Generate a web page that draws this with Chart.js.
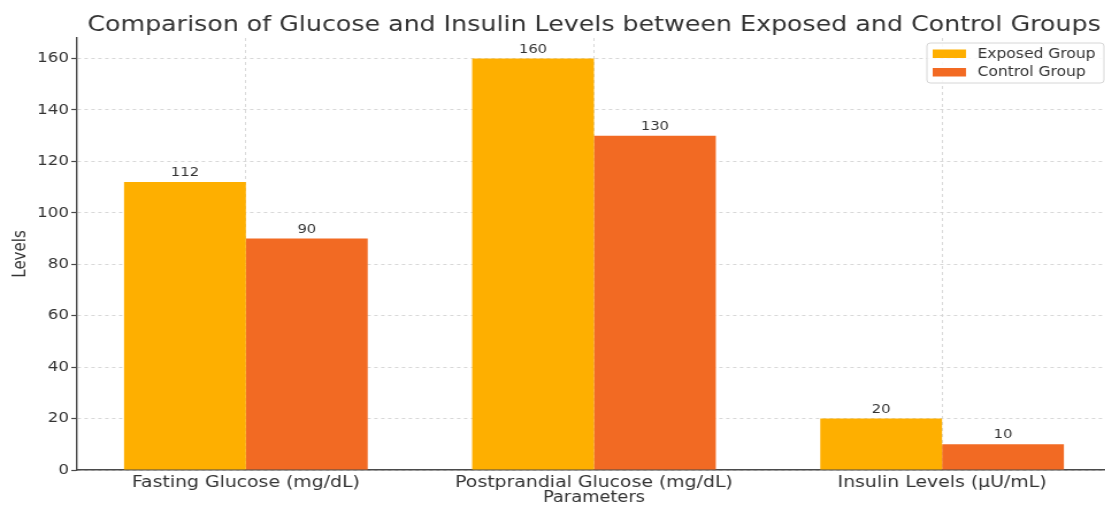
<!DOCTYPE html>
<html lang="en">
<head>
<meta charset="UTF-8">
<meta name="viewport" content="width=device-width, initial-scale=1.0">
<title>Glucose and Insulin Levels</title>
<style>
  html, body { margin: 0; padding: 0; overflow: hidden; background: #fff; }
  /* the reference picture is a little wider than tall, so the whole drawing is stretched sideways */
  #wrap { width: 975px; height: 505px; transform: scaleX(1.15); transform-origin: 0 0; }
  #chart { display: block; }
</style>
</head>
<body>
<div id="wrap"><canvas id="chart" width="975" height="505"></canvas></div>

<script src="https://cdn.jsdelivr.net/npm/chart.js"></script>
<script>
  const chartTitle = 'Comparison of Glucose and Insulin Levels between Exposed and Control Groups';
  const categories = ['Fasting Glucose (mg/dL)', 'Postprandial Glucose (mg/dL)', 'Insulin Levels (μU/mL)'];
  const seriesNames = ['Exposed Group', 'Control Group'];
  const exposedValues = [112, 160, 20];
  const controlValues = [90, 130, 10];
  const yTickValues = [0, 20, 40, 60, 80, 100, 120, 140, 160];
  const yMax = 168;

  const exposedColor = '#FEAF00';
  const controlColor = '#F26A23';
  const textColor = '#333';
  const font = 'DejaVu Sans';

  const toPoints = values => values.map((v, i) => ({ x: i, y: v }));

  // numbers written above every bar
  const valueLabels = {
    id: 'valueLabels',
    afterDatasetsDraw(chart) {
      const ctx = chart.ctx;
      ctx.save();
      ctx.font = '12.8px "' + font + '"';
      ctx.fillStyle = textColor;
      ctx.textAlign = 'center';
      ctx.textBaseline = 'alphabetic';
      chart.data.datasets.forEach((ds, i) => {
        chart.getDatasetMeta(i).data.forEach((bar, j) => {
          ctx.fillText(String(ds.data[j].y), bar.x, bar.y - 6);
        });
      });
      ctx.restore();
    }
  };

  // title centred over the plot, and a boxed legend in the upper right corner
  const titleAndLegend = {
    id: 'titleAndLegend',
    afterDraw(chart) {
      const { ctx, chartArea } = chart;
      ctx.save();
      ctx.font = '22px "' + font + '"';
      ctx.fillStyle = textColor;
      ctx.textAlign = 'center';
      ctx.textBaseline = 'alphabetic';
      ctx.fillText(chartTitle, (chartArea.left + chartArea.right) / 2, 31);

      const boxX = 806, boxY = 43, boxW = 154, boxH = 40;
      ctx.fillStyle = 'rgba(255,255,255,0.85)';
      ctx.strokeStyle = '#d6d6d6';
      ctx.lineWidth = 1;
      ctx.beginPath();
      ctx.roundRect(boxX, boxY, boxW, boxH, 3);
      ctx.fill();
      ctx.stroke();

      ctx.font = '13.5px "' + font + '"';
      ctx.textAlign = 'left';
      ctx.textBaseline = 'middle';
      chart.data.datasets.forEach((ds, i) => {
        const y = 54 + i * 18.5;
        ctx.fillStyle = ds.backgroundColor;
        ctx.fillRect(boxX + 5, y - 4.5, 29, 8.5);
        ctx.fillStyle = textColor;
        ctx.fillText(ds.label, boxX + 44, y);
      });
      ctx.restore();
    }
  };

  new Chart(document.getElementById('chart'), {
    type: 'bar',
    data: {
      datasets: [
        { label: seriesNames[0], data: toPoints(exposedValues), backgroundColor: exposedColor, categoryPercentage: 0.7, barPercentage: 1.0 },
        { label: seriesNames[1], data: toPoints(controlValues), backgroundColor: controlColor, categoryPercentage: 0.7, barPercentage: 1.0 }
      ]
    },
    options: {
      responsive: false,
      animation: false,
      events: [],
      layout: { padding: { top: 38, right: 9, left: 0, bottom: 0 } },
      plugins: {
        legend: { display: false },
        tooltip: { enabled: false }
      },
      scales: {
        x: {
          type: 'linear',
          min: -0.485,
          max: 2.485,
          offset: false,
          grid: { offset: false, color: '#d4d4d4', lineWidth: 0.9, drawTicks: false },
          border: { color: '#4a4a4a', width: 1.4, dash: [3, 3] },
          ticks: {
            stepSize: 1,
            includeBounds: false,
            autoSkip: false,
            maxRotation: 0,
            padding: 3,
            color: textColor,
            font: { family: font, size: 16.4 },
            callback: v => categories[v] ?? ''
          },
          title: { display: true, text: 'Parameters', color: textColor, font: { family: font, size: 15.5 }, padding: { top: 0, bottom: -2 } },
          afterFit: s => { s.height = 35; }
        },
        y: {
          min: 0,
          max: yMax,
          afterBuildTicks: s => { s.ticks = yTickValues.map(v => ({ value: v })); },
          grid: { color: '#d4d4d4', lineWidth: 0.9, tickColor: '#4a4a4a', tickLength: 5, tickWidth: 1.2 },
          border: { color: '#4a4a4a', width: 1.4, dash: [3, 3] },
          ticks: { padding: 2, color: textColor, font: { family: font, size: 14.5 } },
          title: { display: true, text: 'Levels', color: textColor, font: { family: font, size: 15 }, padding: { top: 9, bottom: 0 } },
          afterFit: s => { s.width = 67; }
        }
      }
    },
    plugins: [valueLabels, titleAndLegend]
  });
</script>
</body>
</html>
